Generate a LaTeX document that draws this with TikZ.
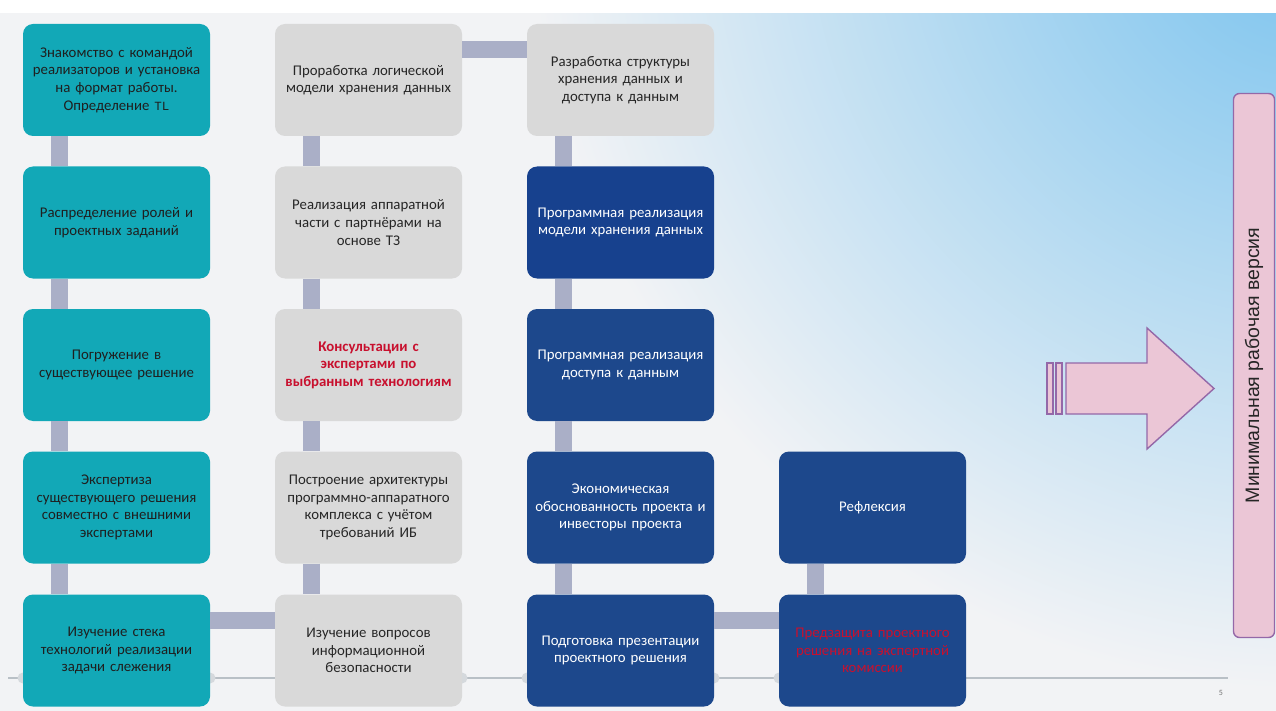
\documentclass[tikz,border=0pt]{standalone}
\usepackage{fontspec}
\setmainfont{Carlito}
\newfontfamily\vfont{Liberation Sans}
\newfontfamily\monofont{Liberation Mono}
\usetikzlibrary{calc}
\definecolor{bgc}{HTML}{F2F3F5}
\definecolor{skyc}{HTML}{78C2EE}
\definecolor{tealc}{HTML}{12A8B7}
\definecolor{greyc}{HTML}{D9D9D9}
\definecolor{navyc}{HTML}{1D488C}
\definecolor{navydc}{HTML}{17418E}
\definecolor{linkc}{HTML}{AAAFC7}
\definecolor{redc}{HTML}{C8102E}
\definecolor{pinkc}{HTML}{EBC6D6}
\definecolor{purplec}{HTML}{9468A8}
\definecolor{tlc}{HTML}{B9C0C6}
\tikzset{
  box/.style={rounded corners=10pt, minimum width=187pt, minimum height=112pt,
    inner sep=0pt, align=center, text width=180pt, font=\fontsize{14.8}{17.6}\selectfont},
  tealbox/.style={box, fill=tealc, text=black!88},
  greybox/.style={box, fill=greyc, text=black!85},
  navybox/.style={box, fill=navyc, text=white},
  navydbox/.style={box, fill=navydc, text=white},
  link/.style={draw=linkc, line width=17pt},
  tldot/.style={fill=tlc!60, draw=none},
}
\begin{document}
\begin{tikzpicture}[x=1pt,y=-1pt]
\useasboundingbox (0,0) rectangle (1276,711);
% background
\fill[bgc] (0,0) rectangle (1276,711);
\begin{scope}
  \clip (0,0) rectangle (1276,711);
  \shade[inner color=skyc, outer color=bgc] (1310,-90) circle (780);
\end{scope}
\fill[white] (0,0) rectangle (1276,13);
% timeline behind boxes
\draw[tlc, line width=1.2pt] (8,678) -- (1228,678);
\foreach \xx in {23,210,462,527,714,779}
  \fill[tldot] (\xx,678) circle (5.5);
% column 1
\node[tealbox] (a1) at (116.5,80) {Знакомство с командой\\реализаторов и установка\\на формат работы.\\Определение {\monofont\fontsize{12.5}{14}\selectfont TL}};
\node[tealbox] (a2) at (116.5,222.5) {Распределение ролей и\\проектных заданий};
\node[tealbox] (a3) at (116.5,365) {Погружение в\\существующее решение};
\node[tealbox] (a4) at (116.5,507.5) {Экспертиза\\существующего решения\\совместно с внешними\\экспертами};
\node[tealbox] (a5) at (116.5,650.5) {Изучение стека\\технологий реализации\\задачи слежения};
% column 2
\node[greybox] (b1) at (368.5,80) {Проработка логической\\модели хранения данных};
\node[greybox] (b2) at (368.5,222.5) {Реализация аппаратной\\части с партнёрами на\\основе ТЗ};
\node[greybox, text=redc, font=\fontsize{14.8}{17.6}\selectfont\bfseries] (b3) at (368.5,365) {Консультации с\\экспертами по\\выбранным технологиям};
\node[greybox] (b4) at (368.5,507.5) {Построение архитектуры\\программно-аппаратного\\комплекса с учётом\\требований ИБ};
\node[greybox] (b5) at (368.5,650.5) {Изучение вопросов\\информационной\\безопасности};
% column 3
\node[greybox] (c1) at (620.5,80) {Разработка структуры\\хранения данных и\\доступа к данным};
\node[navydbox] (c2) at (620.5,222.5) {Программная реализация\\модели хранения данных};
\node[navybox] (c3) at (620.5,365) {Программная реализация\\доступа к данным};
\node[navybox] (c4) at (620.5,507.5) {Экономическая\\обоснованность проекта и\\инвесторы проекта};
\node[navybox] (c5) at (620.5,650.5) {Подготовка презентации\\проектного решения};
% column 4
\node[navybox] (d4) at (872.5,507.5) {Рефлексия};
\node[navybox, text=redc] (d5) at (872.5,650.5) {Предзащита проектного\\решения на экспертной\\комиссии};
% vertical connectors
\foreach \p/\q in {a1/a2,a2/a3,a3/a4,a4/a5,b1/b2,b2/b3,b3/b4,b4/b5,c1/c2,c2/c3,c3/c4,c4/c5,d4/d5}
  \draw[link] ($(\p.south west)+(37,0)$) -- ($(\q.north west)+(37,0)$);
% horizontal connectors
\draw[link] ($(b1.north east)+(0,26)$) -- ($(c1.north west)+(0,26)$);
\draw[link] ($(a5.north east)+(0,26)$) -- ($(b5.north west)+(0,26)$);
\draw[link] ($(c5.north east)+(0,26)$) -- ($(d5.north west)+(0,26)$);
% block arrow
\filldraw[fill=pinkc, draw=purplec, line width=1.4pt] (1047,363) rectangle (1053,414);
\filldraw[fill=pinkc, draw=purplec, line width=1.4pt] (1056,363) rectangle (1062,414);
\filldraw[fill=pinkc, draw=purplec, line width=1.4pt, line join=miter]
  (1066,363) -- (1147,363) -- (1147,328) -- (1214,388.5) -- (1147,449) -- (1147,414) -- (1066,414) -- cycle;
% result box
\node[rotate=90, minimum width=544pt, minimum height=41pt, inner sep=0pt,
  fill=pinkc, draw=purplec, line width=1.4pt, rounded corners=6pt,
  font=\vfont\fontsize{19.5}{21}\selectfont, text=black!85] (mvp) at (1254,365.5) {Минимальная рабочая версия};
% page number
\node[font=\fontsize{8}{9}\selectfont, text=black!55] (pg) at (1221,693) {5};
\end{tikzpicture}
\end{document}
